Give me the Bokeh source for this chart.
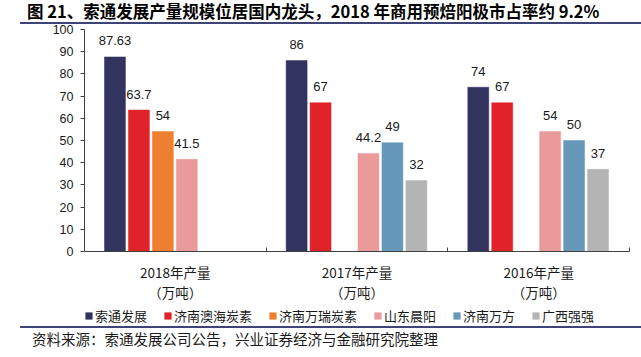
from bokeh.plotting import figure
from bokeh.models import (Range1d, FixedTicker, Legend, LegendItem, Div,
                          ColumnDataSource)
from bokeh.layouts import column
from bokeh.core.properties import value
from bokeh.embed import file_html
from bokeh.resources import INLINE

# ---------------- data ----------------
groups = ["2018年产量\n（万吨）", "2017年产量\n（万吨）", "2016年产量\n（万吨）"]
series = ["索通发展", "济南澳海炭素", "济南万瑞炭素", "山东晨阳", "济南万方", "广西强强"]
suotong = [87.63, 86, 74]
aohai = [63.7, 67, 67]
wanrui = [54, None, None]
chenyang = [41.5, 44.2, 54]
wanfang = [None, 49, 50]
qiangqiang = [None, 32, 37]
y_ticks = [0, 10, 20, 30, 40, 50, 60, 70, 80, 90, 100]
colors = ["#33335F", "#E02229", "#EE7F31", "#EA9A9B", "#6698BA", "#B4B4B4"]

title_text = "图 21、索通发展产量规模位居国内龙头，2018 年商用预焙阳极市占率约 9.2%"
source_text = "资料来源：索通发展公司公告，兴业证券经济与金融研究院整理"

all_series = [suotong, aohai, wanrui, chenyang, wanfang, qiangqiang]

# ---------------- layout constants ----------------
W = 641
PAD = 20 / 182
STEP = 24 / 182
BAR_W = 21 / 182
CJK = "Noto Sans CJK SC"
LAT = "Liberation Sans"
LINE = "#3E4478"

title_div = Div(text=title_text, width=W - 20, height=24, margin=(0, 0, 0, 20),
                styles={"font-family": CJK, "font-size": "16.5px",
                        "font-weight": "bold", "color": "#000",
                        "line-height": "22px", "padding-left": "7px",
                        "border-bottom": f"2px solid {LINE}",
                        "box-sizing": "border-box", "white-space": "nowrap"})

# ---------------- main chart ----------------
p = figure(width=W, height=281, output_backend="svg", toolbar_location=None,
           x_range=Range1d(0, len(groups)), y_range=Range1d(0, 100),
           min_border_left=84, min_border_right=12, min_border_top=5,
           min_border_bottom=54)
p.outline_line_color = None
p.grid.visible = False

ya = p.yaxis[0]
ya.ticker = FixedTicker(ticks=y_ticks, minor_ticks=[])
ya.major_tick_in = 0
ya.major_tick_out = 4
ya.minor_tick_in = 0
ya.minor_tick_out = 0
ya.axis_line_color = "#404040"
ya.major_tick_line_color = "#404040"
ya.major_label_text_font = LAT
ya.major_label_text_font_size = "12.5px"
ya.major_label_text_color = "#1a1a1a"
ya.major_label_standoff = 7

xa = p.xaxis[0]
centers = [i + 0.5 for i in range(len(groups))]
bounds = [i for i in range(len(groups) + 1)]
xa.ticker = FixedTicker(ticks=centers, minor_ticks=bounds)
xa.major_label_overrides = {c: g for c, g in zip(centers, groups)}
xa.major_tick_in = 0
xa.major_tick_out = 0
xa.minor_tick_in = 4
xa.minor_tick_out = 0
xa.axis_line_color = "#404040"
xa.minor_tick_line_color = "#404040"
xa.major_label_text_font = CJK
xa.major_label_text_font_size = "13.5px"
xa.major_label_text_color = "#1a1a1a"
xa.major_label_text_line_height = 1.0
xa.major_label_standoff = 10

for i, (name, vals, col) in enumerate(zip(series, all_series, colors)):
    xs, ys, txt = [], [], []
    for g, v in enumerate(vals):
        if v is None:
            continue
        xs.append(g + PAD + STEP * i + BAR_W / 2)
        ys.append(v)
        txt.append(f"{v:g}")
    src = ColumnDataSource(dict(x=xs, top=ys, label=txt))
    p.vbar(x="x", top="top", width=BAR_W, bottom=0, source=src,
           fill_color=col, line_color=col, line_width=0.5)
    p.text(x="x", y="top", text="label", source=src, text_align="center",
           text_baseline="middle", y_offset=-16, text_font=value(LAT),
           text_font_size="13px", text_color="#1a1a1a")

# ---------------- legend strip ----------------
lg = figure(width=W, height=21, output_backend="svg", toolbar_location=None,
            x_axis_type=None, y_axis_type=None, min_border=0,
            x_range=Range1d(0, 1), y_range=Range1d(0, 1))
lg.outline_line_color = None
lg.grid.visible = False
items = []
for i, (name, col) in enumerate(zip(series, colors)):
    # zero-size proxy glyph, only used for the legend swatch
    r = lg.vbar(x=[i], top=[0], bottom=[0], width=0, fill_color=col,
                line_color=col, line_width=0)
    items.append(LegendItem(label=name, renderers=[r]))
legend = Legend(items=items, orientation="horizontal", location=(0, 1),
                padding=0, margin=0, spacing=16, label_standoff=2,
                glyph_width=9, glyph_height=9, label_height=14,
                label_text_font=CJK, label_text_font_size="13px",
                label_text_color="#1a1a1a", border_line_color=None,
                background_fill_alpha=0)
lg.add_layout(legend, "center")

footer_div = Div(text=source_text, width=W - 20, height=31, margin=(0, 0, 0, 20),
                 styles={"font-family": CJK, "font-size": "14.5px",
                         "color": "#1a1a1a", "line-height": "22px",
                         "padding-left": "12px",
                         "border-top": f"2px solid {LINE}",
                         "box-sizing": "border-box", "white-space": "nowrap"})

layout = column(title_div, p, lg, footer_div, spacing=0)

open("out.html", "w").write(file_html(layout, INLINE))
